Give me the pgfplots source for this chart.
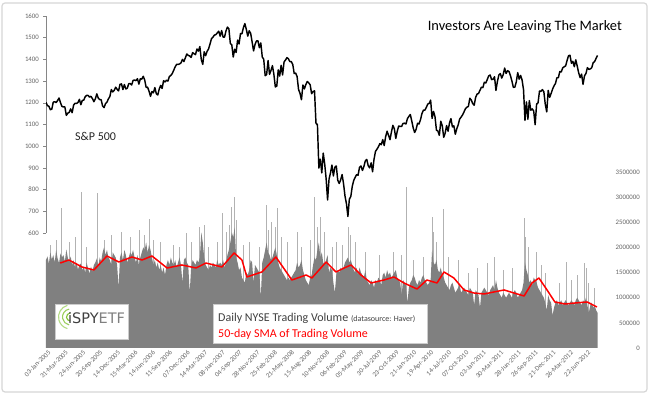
\documentclass[border=0pt]{standalone}
\usepackage{pgfplots}
\pgfplotsset{compat=1.18}
\usepackage{fontspec}
\setmainfont{Carlito}
\setsansfont{Carlito}
\newfontfamily\logofont{DejaVu Sans}
\definecolor{tickgray}{RGB}{100,100,100}
\definecolor{axgray}{RGB}{134,134,134}
\definecolor{volgray}{RGB}{128,128,128}
\definecolor{spkgray}{RGB}{178,178,178}
\definecolor{framegray}{RGB}{215,215,215}
\definecolor{txtgray}{RGB}{64,64,64}
\definecolor{logogreen}{RGB}{130,195,50}
\begin{document}
\begin{tikzpicture}[x=1pt,y=1pt]
\useasboundingbox (0,0) rectangle (650,395);
\fill[white] (0,0) rectangle (650,395);
\draw[framegray, line width=1.2pt, rounded corners=3pt] (2,3) rectangle (647,392);
% ---------------- Volume axis ----------------
\begin{axis}[at={(46pt,47pt)}, anchor=south west, scale only axis,
  width=553pt, height=176pt, xmin=0, xmax=1905, ymin=0, ymax=3500,
  axis x line*=bottom, axis y line*=right, axis line style={draw=none},
  major tick length=0pt,
  xtick={0,60,...,1860},
  xticklabels={03-Jan-2005,31-Mar-2005,24-Jun-2005,20-Sep-2005,14-Dec-2005,15-Mar-2006,14-Jun-2006,11-Sep-2006,07-Dec-2006,14-Mar-2007,08-Jun-2007,04-Sep-2007,28-Nov-2007,25-Feb-2008,21-May-2008,15-Aug-2008,10-Nov-2008,06-Feb-2009,05-May-2009,30-Jul-2009,23-Oct-2009,21-Jan-2010,19-Apr-2010,14-Jul-2010,07-Oct-2010,03-Jan-2011,30-Mar-2011,28-Jun-2011,26-Sep-2011,21-Dec-2011,26-Mar-2012,22-Jun-2012},
  xticklabel style={rotate=45, anchor=east, inner sep=0pt, yshift=-5pt, font=\fontsize{6.8}{7}\selectfont, text=tickgray},
  ytick={0,500,...,3500},
  yticklabels={0,500000,1000000,1500000,2000000,2500000,3000000,3500000},
  yticklabel style={anchor=east, inner sep=0pt, xshift=41pt, font=\fontsize{6.8}{7}\selectfont, text=tickgray},
]
\addplot[ycomb, spkgray, line width=0.7pt, no marks] coordinates {
(52,2785)(121,3103)(176,3083)(355,2566)(482,2287)(527,2407)(606,2685)(637,2804)(648,3003)(758,2844)(796,2785)(865,2307)(923,3003)(1040,2400)(1240,3202)(1330,2606)(1368,2765)(1647,2586)(1791,1710)(1853,1700)(1860,1600)
(15,2050)(35,2150)(80,2100)(100,2200)(140,2000)(200,2150)(225,2250)(260,2300)(290,2200)(320,2350)(340,2250)(370,2150)(395,2100)(440,2050)(460,2000)(500,2100)(545,2450)(560,2000)(590,2100)(620,2300)(630,2450)(655,2550)(680,2050)(700,2100)(735,2000)(765,2350)(775,2500)(790,2400)(810,2200)(830,2100)(880,2000)(910,2150)(935,2400)(945,2600)(960,2300)(985,2000)(1000,2100)(1020,2050)(1050,2250)(1065,2100)(1100,1900)(1150,1850)(1195,1900)(1225,1850)(1265,1750)(1300,1800)(1335,2300)(1345,2100)(1385,1800)(1420,1750)(1455,1500)(1485,1600)(1520,1700)(1545,1800)(1575,1550)(1605,1600)(1652,2200)(1660,2000)(1690,1900)(1705,1650)(1720,1500)(1770,1300)(1810,1350)(1830,1450)(1870,1300)(1890,1200)};
\addplot[fill=volgray, draw=none] table[row sep=\\, x expr=\coordindex*5, y=v] {v\\
1750\\1820\\1680\\1900\\1760\\1850\\1700\\1950\\1780\\1690\\1880\\1800\\
1850\\1720\\1960\\1800\\1700\\1820\\1650\\1750\\1600\\1700\\1560\\1650\\
1680\\1550\\1620\\1500\\1700\\1580\\1480\\1620\\1520\\1650\\1700\\1780\\
1620\\1800\\1720\\1900\\2000\\1850\\1950\\1800\\1750\\1650\\1900\\1850\\
1800\\1650\\1200\\1800\\1900\\1750\\1950\\1850\\1700\\1800\\1900\\1850\\
1950\\1800\\1700\\1850\\1650\\1800\\1900\\2000\\1950\\2100\\1900\\2050\\
1950\\1800\\1650\\1750\\1600\\1700\\1550\\1650\\1500\\1600\\1450\\1650\\
1750\\1650\\1800\\1700\\1650\\1750\\1600\\1700\\1800\\1650\\1300\\1750\\
1800\\1700\\1650\\1100\\1600\\1750\\1700\\1650\\1750\\1700\\1800\\2300\\
2100\\1800\\1650\\1600\\1550\\1650\\1600\\1700\\1650\\1600\\1750\\1650\\
1700\\1650\\1750\\1600\\1700\\1850\\1950\\2100\\2300\\2200\\2400\\1800\\
1700\\1550\\1600\\1400\\1350\\1300\\1500\\1450\\1550\\1750\\1700\\1300\\
1650\\1600\\1550\\1500\\1000\\1700\\1800\\1950\\2100\\1900\\1850\\1750\\
1800\\1900\\2000\\1850\\1700\\1600\\1550\\1500\\1450\\1400\\1350\\1400\\
1350\\1400\\1450\\1500\\1550\\1700\\1600\\1650\\1750\\1550\\1450\\1350\\
1300\\1250\\1400\\1450\\1650\\1800\\1750\\1950\\2100\\1800\\1900\\1700\\
1650\\1750\\1850\\1500\\1600\\1550\\1300\\1100\\1450\\1550\\1500\\1600\\
1550\\1600\\1700\\1750\\1800\\1700\\1750\\1650\\1550\\1500\\1600\\1450\\
1600\\1500\\1450\\1400\\1550\\1350\\1300\\1250\\1350\\1300\\1200\\1350\\
1300\\1400\\1350\\1250\\1450\\1500\\1400\\1550\\1450\\1500\\1400\\1450\\
1500\\1550\\1400\\1350\\1300\\1050\\1350\\1300\\1250\\900\\1200\\1300\\
1350\\1450\\1400\\1300\\1250\\1350\\1300\\1400\\1450\\1350\\1300\\1250\\
1300\\1350\\1950\\1700\\1650\\1750\\1550\\1500\\1600\\1450\\1400\\1300\\
1250\\1200\\1150\\1250\\1300\\1200\\1100\\1150\\1200\\1250\\1100\\1150\\
1200\\1150\\1100\\1050\\1200\\1150\\1100\\850\\1150\\1100\\1050\\800\\
1100\\1150\\1200\\1150\\1100\\1050\\1150\\1200\\1250\\1150\\1350\\1200\\
1100\\1050\\1000\\1100\\1050\\1000\\1050\\1100\\1050\\1000\\1100\\1150\\
1100\\1000\\1050\\1100\\1150\\1300\\1700\\1550\\1450\\1300\\1350\\1250\\
1400\\1350\\1300\\1200\\1150\\1100\\1050\\1000\\900\\750\\1050\\950\\
900\\650\\800\\900\\950\\850\\900\\950\\850\\900\\950\\900\\
850\\900\\950\\900\\850\\950\\1000\\950\\900\\850\\950\\900\\
1000\\850\\700\\850\\900\\800\\850\\750\\700\\
} \closedcycle;
\addplot[red, line width=1.5pt, no marks, line join=round] coordinates {
(49,1690)(79,1750)(124,1611)(165,1551)(210,1830)(251,1710)(296,1810)(331,1750)(365,1830)(417,1591)(468,1651)(517,1591)(551,1690)(606,1611)(648,1890)(675,1750)(692,1412)(744,1512)(792,1810)(847,1352)(896,1452)(916,1392)(965,1710)(999,1512)(1027,1591)(1051,1651)(1085,1452)(1120,1293)(1164,1352)(1199,1412)(1233,1293)(1278,1173)(1312,1352)(1347,1293)(1371,1512)(1405,1392)(1440,1154)(1474,1094)(1509,1074)(1543,1114)(1578,1154)(1612,1094)(1647,1034)(1674,1293)(1698,1392)(1726,1154)(1753,915)(1788,875)(1822,895)(1864,915)(1898,815)};
\end{axis}
% ---------------- S&P axis ----------------
\begin{axis}[at={(46pt,162pt)}, anchor=south west, scale only axis,
  width=553pt, height=217pt, xmin=0, xmax=1905, ymin=600, ymax=1600,
  axis x line=none, axis y line*=left,
  y axis line style={axgray, line width=0.6pt},
  tick align=outside, major tick length=3pt, tick style={axgray, line width=0.5pt},
  ytick={600,700,...,1600},
  yticklabels={600,700,800,900,1000,1100,1200,1300,1400,1500,1600},
  yticklabel style={inner sep=0pt, xshift=-4pt, font=\fontsize{6.8}{7}\selectfont, text=tickgray},
]
\addplot[black, line width=1.45pt, no marks, line join=round] table[row sep=\\, x expr=\coordindex*5, y=s] {s\\
1202\\1187\\1184\\1168\\1171\\1203\\1205\\1201\\1211\\1222\\1200\\1183\\
1181\\1181\\1142\\1152\\1156\\1172\\1154\\1189\\1198\\1197\\1201\\1216\\
1191\\1211\\1212\\1228\\1234\\1234\\1226\\1230\\1219\\1205\\1218\\1241\\
1222\\1215\\1214\\1185\\1178\\1196\\1203\\1218\\1229\\1261\\1250\\1257\\
1272\\1262\\1255\\1285\\1287\\1261\\1284\\1264\\1267\\1288\\1289\\1282\\
1303\\1305\\1302\\1311\\1286\\1311\\1309\\1322\\1305\\1271\\1272\\1253\\
1230\\1252\\1246\\1270\\1242\\1236\\1263\\1280\\1266\\1302\\1296\\1304\\
1300\\1321\\1326\\1335\\1350\\1366\\1377\\1377\\1379\\1384\\1400\\1390\\
1407\\1425\\1418\\1416\\1409\\1431\\1426\\1422\\1448\\1438\\1459\\1399\\
1377\\1435\\1417\\1437\\1448\\1471\\1495\\1502\\1512\\1514\\1522\\1530\\
1507\\1533\\1503\\1503\\1531\\1549\\1541\\1473\\1467\\1411\\1447\\1432\\
1489\\1471\\1519\\1518\\1546\\1565\\1539\\1507\\1532\\1520\\1481\\1439\\
1469\\1485\\1486\\1454\\1476\\1411\\1401\\1325\\1330\\1395\\1331\\1349\\
1371\\1331\\1273\\1277\\1352\\1323\\1373\\1328\\1388\\1397\\1408\\1403\\
1390\\1390\\1377\\1335\\1337\\1321\\1261\\1244\\1214\\1282\\1264\\1284\\
1298\\1292\\1283\\1242\\1252\\1255\\1106\\1099\\899\\940\\877\\968\\
919\\850\\752\\848\\877\\913\\863\\903\\909\\843\\828\\845\\
869\\827\\770\\735\\676\\756\\768\\815\\842\\856\\869\\866\\
903\\909\\888\\906\\932\\939\\910\\900\\923\\882\\940\\976\\
986\\997\\1012\\1007\\1030\\1003\\1044\\1069\\1050\\1030\\1066\\1096\\
1080\\1036\\1069\\1093\\1091\\1091\\1105\\1106\\1102\\1127\\1137\\1146\\
1116\\1084\\1063\\1078\\1106\\1102\\1122\\1150\\1166\\1166\\1178\\1194\\
1197\\1212\\1128\\1160\\1136\\1074\\1070\\1050\\1115\\1095\\1041\\1060\\
1095\\1069\\1107\\1127\\1089\\1094\\1055\\1080\\1099\\1125\\1134\\1144\\
1158\\1173\\1180\\1183\\1221\\1213\\1196\\1189\\1225\\1240\\1243\\1258\\
1272\\1270\\1295\\1291\\1307\\1324\\1328\\1307\\1308\\1320\\1257\\1298\\
1328\\1335\\1314\\1330\\1360\\1335\\1348\\1344\\1325\\1300\\1271\\1272\\
1296\\1339\\1309\\1326\\1305\\1260\\1119\\1204\\1124\\1210\\1166\\1172\\
1162\\1099\\1194\\1200\\1254\\1253\\1261\\1251\\1192\\1158\\1257\\1225\\
1243\\1263\\1278\\1289\\1315\\1316\\1344\\1342\\1361\\1366\\1370\\1395\\
1417\\1419\\1382\\1391\\1366\\1398\\1369\\1338\\1316\\1332\\1285\\1324\\
1335\\1362\\1354\\1356\\1362\\1385\\1390\\1405\\1418\\
};
\end{axis}
% ---------------- annotations ----------------
\node[anchor=base east, inner sep=0pt, font=\fontsize{14.4}{16}\selectfont, text=black] at (622,364) {Investors Are Leaving The Market};
\node[anchor=base west, inner sep=0pt, font=\fontsize{12}{14}\selectfont, text={rgb,255:red,38;green,38;blue,38}] at (75,254) {S\&P 500};
% logo box
\draw[gray!40, fill=white, line width=0.4pt] (55,56) rectangle (128,91);
\begin{scope}[logogreen, line width=1.1pt]
\draw (70.5,78) ++(95:4) arc (95:265:4);
\draw[opacity=0.8] (70.5,78) ++(100:8) arc (100:260:8);
\draw[opacity=0.6] (70.5,78) ++(105:12) arc (105:255:12);
\end{scope}
\node[anchor=base west, inner sep=0pt] at (68,71) {\logofont\fontsize{14.5}{16}\selectfont\textcolor{txtgray}{iSPY}\textcolor{gray}{ETF}};
% legend box
\draw[gray!40, fill=white, line width=0.4pt] (213,52) rectangle (427,91);
\node[anchor=base west, inner sep=0pt, text=txtgray] at (218,73) {\fontsize{12}{14}\selectfont Daily NYSE Trading Volume \fontsize{8}{9}\selectfont (datasource: Haver)};
\node[anchor=base west, inner sep=0pt, text=red] at (218,57) {\fontsize{12}{14}\selectfont 50-day SMA of Trading Volume};
\end{tikzpicture}
\end{document}
